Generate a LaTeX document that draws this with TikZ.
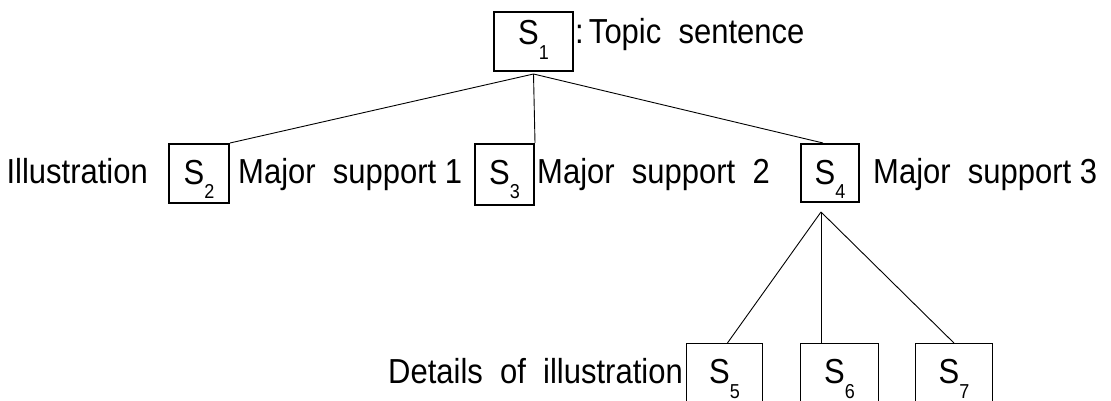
\documentclass[tikz,border=0pt]{standalone}
\usepackage{fontspec}
\setmainfont{Liberation Sans}
\newcommand{\tx}[1]{\scalebox{1}[1.12]{#1}}
\newcommand{\Sb}[1]{\tx{S\raisebox{-13pt}{\fontsize{18}{18}\selectfont #1}}}
\begin{document}
\begin{tikzpicture}[x=1pt,y=-1pt,font=\fontsize{31}{36}\selectfont,
  box/.style={draw,line width=2pt,inner sep=0pt,anchor=north west},
  thinbox/.style={draw,line width=0.9pt,inner sep=0pt,anchor=north west},
  conn/.style={line width=0.9pt},
  lbl/.style={inner sep=0pt,anchor=base west}]
\useasboundingbox (0,0) rectangle (1111,401);
% top
\node[box,minimum width=79,text height=33,text depth=26] (s1) at (493,11) {\Sb{1}\hspace{8pt}};
\node[lbl] (t1) at (575,44) {\tx{:\,Topic\ \ sentence}};
% middle row
\node[lbl,anchor=base east] (il) at (148,183) {\tx{Illustration}};
\node[box,minimum width=60,text height=40,text depth=19] (s2) at (168,143) {\Sb{2}};
\node[lbl] (m1) at (238,183) {\tx{Major\ \ support 1}};
\node[box,minimum width=59,text height=40,text depth=21] (s3) at (474,143) {\Sb{3}};
\node[lbl] (m2) at (537,183) {\tx{Major\ \ support\ \ 2}};
\node[box,minimum width=58,text height=40,text depth=18] (s4) at (800,143) {\Sb{4}};
\node[lbl] (m3) at (873,183) {\tx{Major\ \ support 3}};
% bottom row
\node[lbl,anchor=base east] (det) at (683,383) {\tx{Details\ \ of\ \ illustration}};
\node[thinbox,minimum width=76,text height=40,text depth=21] (s5) at (686,343) {\Sb{5}};
\node[thinbox,minimum width=78,text height=40,text depth=21] (s6) at (800,343) {\Sb{6}};
\node[thinbox,minimum width=77,text height=40,text depth=21] (s7) at (915,343) {\Sb{7}};
% connectors
\coordinate (a1) at ([yshift=-2pt]s1.south);
\coordinate (a4) at ([xshift=-9pt,yshift=-9pt]s4.south);
\draw[conn] (a1) -- (s2.north east);
\draw[conn] (a1) -- (s3.north east);
\draw[conn] (a1) -- ([xshift=-7pt]s4.north);
\draw[conn] (a4) -- ([xshift=3pt]s5.north);
\draw[conn] (a4) -- (a4 |- s6.north);
\draw[conn] (a4) -- (s7.north);
\end{tikzpicture}
\end{document}
